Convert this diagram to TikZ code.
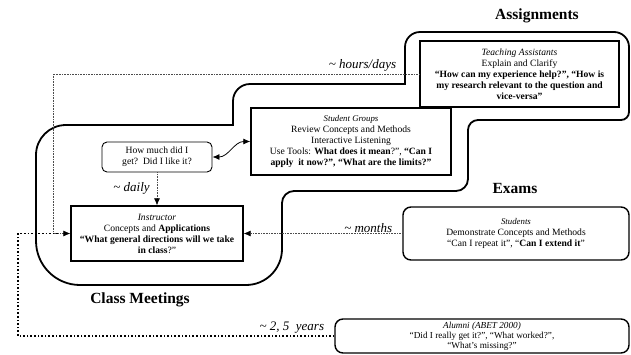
\documentclass[tikz,border=0pt]{standalone}
\usepackage{fontspec}
\setmainfont{Liberation Serif}
\usetikzlibrary{arrows.meta}
\begin{document}
\begin{tikzpicture}[x=1pt, y=-1pt,
    box/.style={draw, line width=1.4pt, align=center, inner sep=0pt,
      font=\fontsize{9.6}{11}\selectfont},
    roundbox/.style={box, rounded corners=8pt},
    title/.style={font=\fontsize{15.5}{18}\selectfont\bfseries},
    lag/.style={font=\fontsize{13}{15}\selectfont\itshape, inner sep=1pt, text=black},
    hint/.style={densely dotted, line width=0.6pt, black!70},
    tip/.style={-{Latex[length=7pt, width=6pt, color=black]}},
    outline/.style={line width=1.8pt}]
    \useasboundingbox (0,0) rectangle (631,354);

    % regions
    \draw[outline] (405,84) [rounded corners=15pt] -- (405,32) -- (629,32)
      [rounded corners=8pt] -- (629,120) [rounded corners=10pt] -- (468,120)
      [rounded corners=12pt] -- (468,191) -- (282,191)
      [rounded corners=36pt] -- (282,285) [rounded corners=44pt] -- (36,285)
      [rounded corners=30pt] -- (36,125) [sharp corners] -- (233,125)
      [rounded corners=17pt] -- (233,84) [sharp corners] -- cycle;
    \node[title] (assign) at (537,16) {Assignments};
    \node[title] (examlbl) at (515,188) {Exams};
    \node[title] (classlbl) at (140,300) {Class Meetings};

    % boxes
    \node[box, minimum width=199pt, minimum height=66pt, fill=white] (ta) at (519.5,74)
      {{\itshape Teaching Assistants}\\ Explain and Clarify\\
       \textbf{“How can my experience help?”, “How is}\\
       \textbf{my research relevant to the question and}\\
       \textbf{vice-versa”}};
    \node[box, minimum width=200pt, minimum height=67pt, fill=white] (groups) at (351,141.5)
      {{\itshape\fontsize{8.8}{11}\selectfont Student Groups}\\ Review Concepts and Methods\\
       Interactive Listening\\
       Use Tools: \textbf{What does it mean}?”, \textbf{“Can I}\\
       \textbf{apply\ \ it now?”, “What are the limits?”}};
    \node[box, line width=0.9pt, rounded corners=5pt, minimum width=110pt, minimum height=30pt] (feedback) at (157,157)
      {How much did I\\ get?\ \ Did I like it?};
    \node[box, minimum width=172pt, minimum height=55pt] (instructor) at (157,233.5)
      {{\itshape Instructor}\\ Concepts and \textbf{Applications}\\
       \textbf{“What general directions will we take}\\
       \textbf{in class}?”};
    \node[roundbox, minimum width=226pt, minimum height=53pt] (exams) at (516,233.5)
      {{\itshape\fontsize{8.8}{11}\selectfont Students}\\ Demonstrate Concepts and Methods\\
       “Can I repeat it”, “\textbf{Can I extend it}”};
    \node[roundbox, minimum width=294pt, minimum height=34pt,
      font=\fontsize{9.2}{9.8}\selectfont] (alumni) at (482,336)
      {{\itshape Alumni (ABET 2000)}\\ “Did I really get it?”, “What worked?”,\\
       “What’s missing?”};

    % rails for the long feedback loops
    \coordinate (innerrail) at (53,0);
    \coordinate (outerrail) at (18,0);

    % connectors
    \draw[line width=0.8pt, {Latex[length=7pt, width=6pt]}-{Latex[length=7pt, width=6pt]}]
      (feedback.east) to[out=0, in=180] (groups.west);
    \draw[hint, tip] (feedback.south) -- (instructor.north)
      node[lag, midway, left=6pt] {\textasciitilde\ daily};
    \draw[hint, tip] (ta.west) -- (ta.west -| innerrail) |- (instructor.west);
    \node[lag, anchor=south east] (hourslbl) at ([xshift=-22pt, yshift=1pt]ta.west) {\textasciitilde\ hours/days};
    \draw[hint, tip] (exams.west) -- (instructor.east);
    \node[lag, anchor=south east] (monthslbl) at ([xshift=-9pt]exams.west) {\textasciitilde\ months};
    \draw[dotted, line width=1.6pt] (alumni.west) -- (alumni.west -| outerrail)
      |- ([xshift=-12pt]instructor.west);
    \node[lag, anchor=south east] (yearslbl) at ([xshift=-9pt, yshift=2pt]alumni.west) {\textasciitilde\ 2, 5\ \ years};
\end{tikzpicture}
\end{document}
